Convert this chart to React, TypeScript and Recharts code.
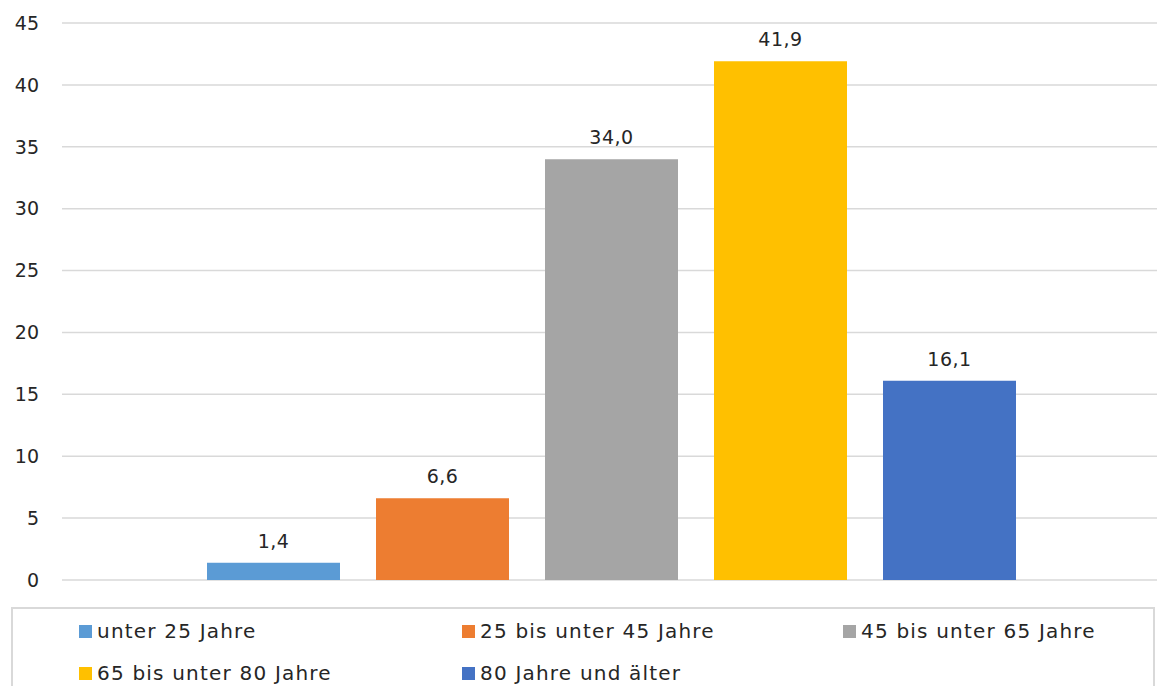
import { BarChart, Bar, XAxis, YAxis, CartesianGrid, LabelList } from 'recharts';

const seriesNames = [
  'unter 25 Jahre',
  '25 bis unter 45 Jahre',
  '45 bis unter 65 Jahre',
  '65 bis unter 80 Jahre',
  '80 Jahre und älter',
];
const seriesValues = [1.4, 6.6, 34.0, 41.9, 16.1];
const seriesColors = ['#5B9BD5', '#ED7D31', '#A5A5A5', '#FFC000', '#4472C4'];
const yTicks = [0, 5, 10, 15, 20, 25, 30, 35, 40, 45];

const keys = seriesNames.map((_, i) => `s${i}`);
const row: Record<string, number | string> = { name: 'Alter' };
keys.forEach((k, i) => {
  row[k] = seriesValues[i];
});
const data = [row];

const FONT = '"DejaVu Sans", sans-serif';
const TEXT = '#262626';

const fmt = (v: unknown) => Number(v).toFixed(1).replace('.', ',');

// legend sits in an open-bottomed box under the plot
const LegendBox = () => (
  <div
    style={{
      position: 'absolute',
      left: 11,
      top: 607,
      width: 1144,
      height: 100,
      boxSizing: 'border-box',
      border: '2px solid #d9d9d9',
      borderBottom: 'none',
      display: 'grid',
      gridTemplateColumns: '383px 381px 380px',
      gridAutoRows: '42px',
      paddingTop: 2,
      paddingLeft: 66,
      fontFamily: FONT,
      fontSize: 20,
      letterSpacing: 1.2,
      color: TEXT,
    }}
  >
    {seriesNames.map((n, i) => (
      <div key={n} style={{ display: 'flex', alignItems: 'center', height: 40 }}>
        <span style={{ width: 13, height: 13, background: seriesColors[i], marginRight: 5, flexShrink: 0 }} />
        <span style={{ whiteSpace: 'nowrap' }}>{n}</span>
      </div>
    ))}
  </div>
);

export default function App() {
  return (
    <div style={{ position: 'absolute', left: 0, top: 0, width: 1157, height: 686, background: '#fff', overflow: 'hidden' }}>
      <BarChart
        width={1157}
        height={686}
        data={data}
        margin={{ top: 23, right: 0, left: 0, bottom: 106 }}
        barSize={133}
        barGap={36}
      >
        <CartesianGrid vertical={false} stroke="#d9d9d9" strokeWidth={1.5} />
        <XAxis dataKey="name" hide padding={{ left: 4, right: 0 }} />
        <YAxis
          width={62}
          domain={[0, 45]}
          ticks={yTicks}
          interval={0}
          axisLine={false}
          tickLine={false}
          tickSize={0}
          tickMargin={23}
          tick={{ fill: TEXT, fontSize: 19, fontFamily: FONT }}
        />
        {keys.map((k, i) => (
          <Bar key={k} dataKey={k} name={seriesNames[i]} fill={seriesColors[i]} isAnimationActive={false}>
            <LabelList
              dataKey={k}
              position="top"
              offset={15}
              formatter={fmt}
              style={{ fill: TEXT, fontSize: 19, fontFamily: FONT, letterSpacing: 0.5 }}
            />
          </Bar>
        ))}
      </BarChart>
      <LegendBox />
    </div>
  );
}
